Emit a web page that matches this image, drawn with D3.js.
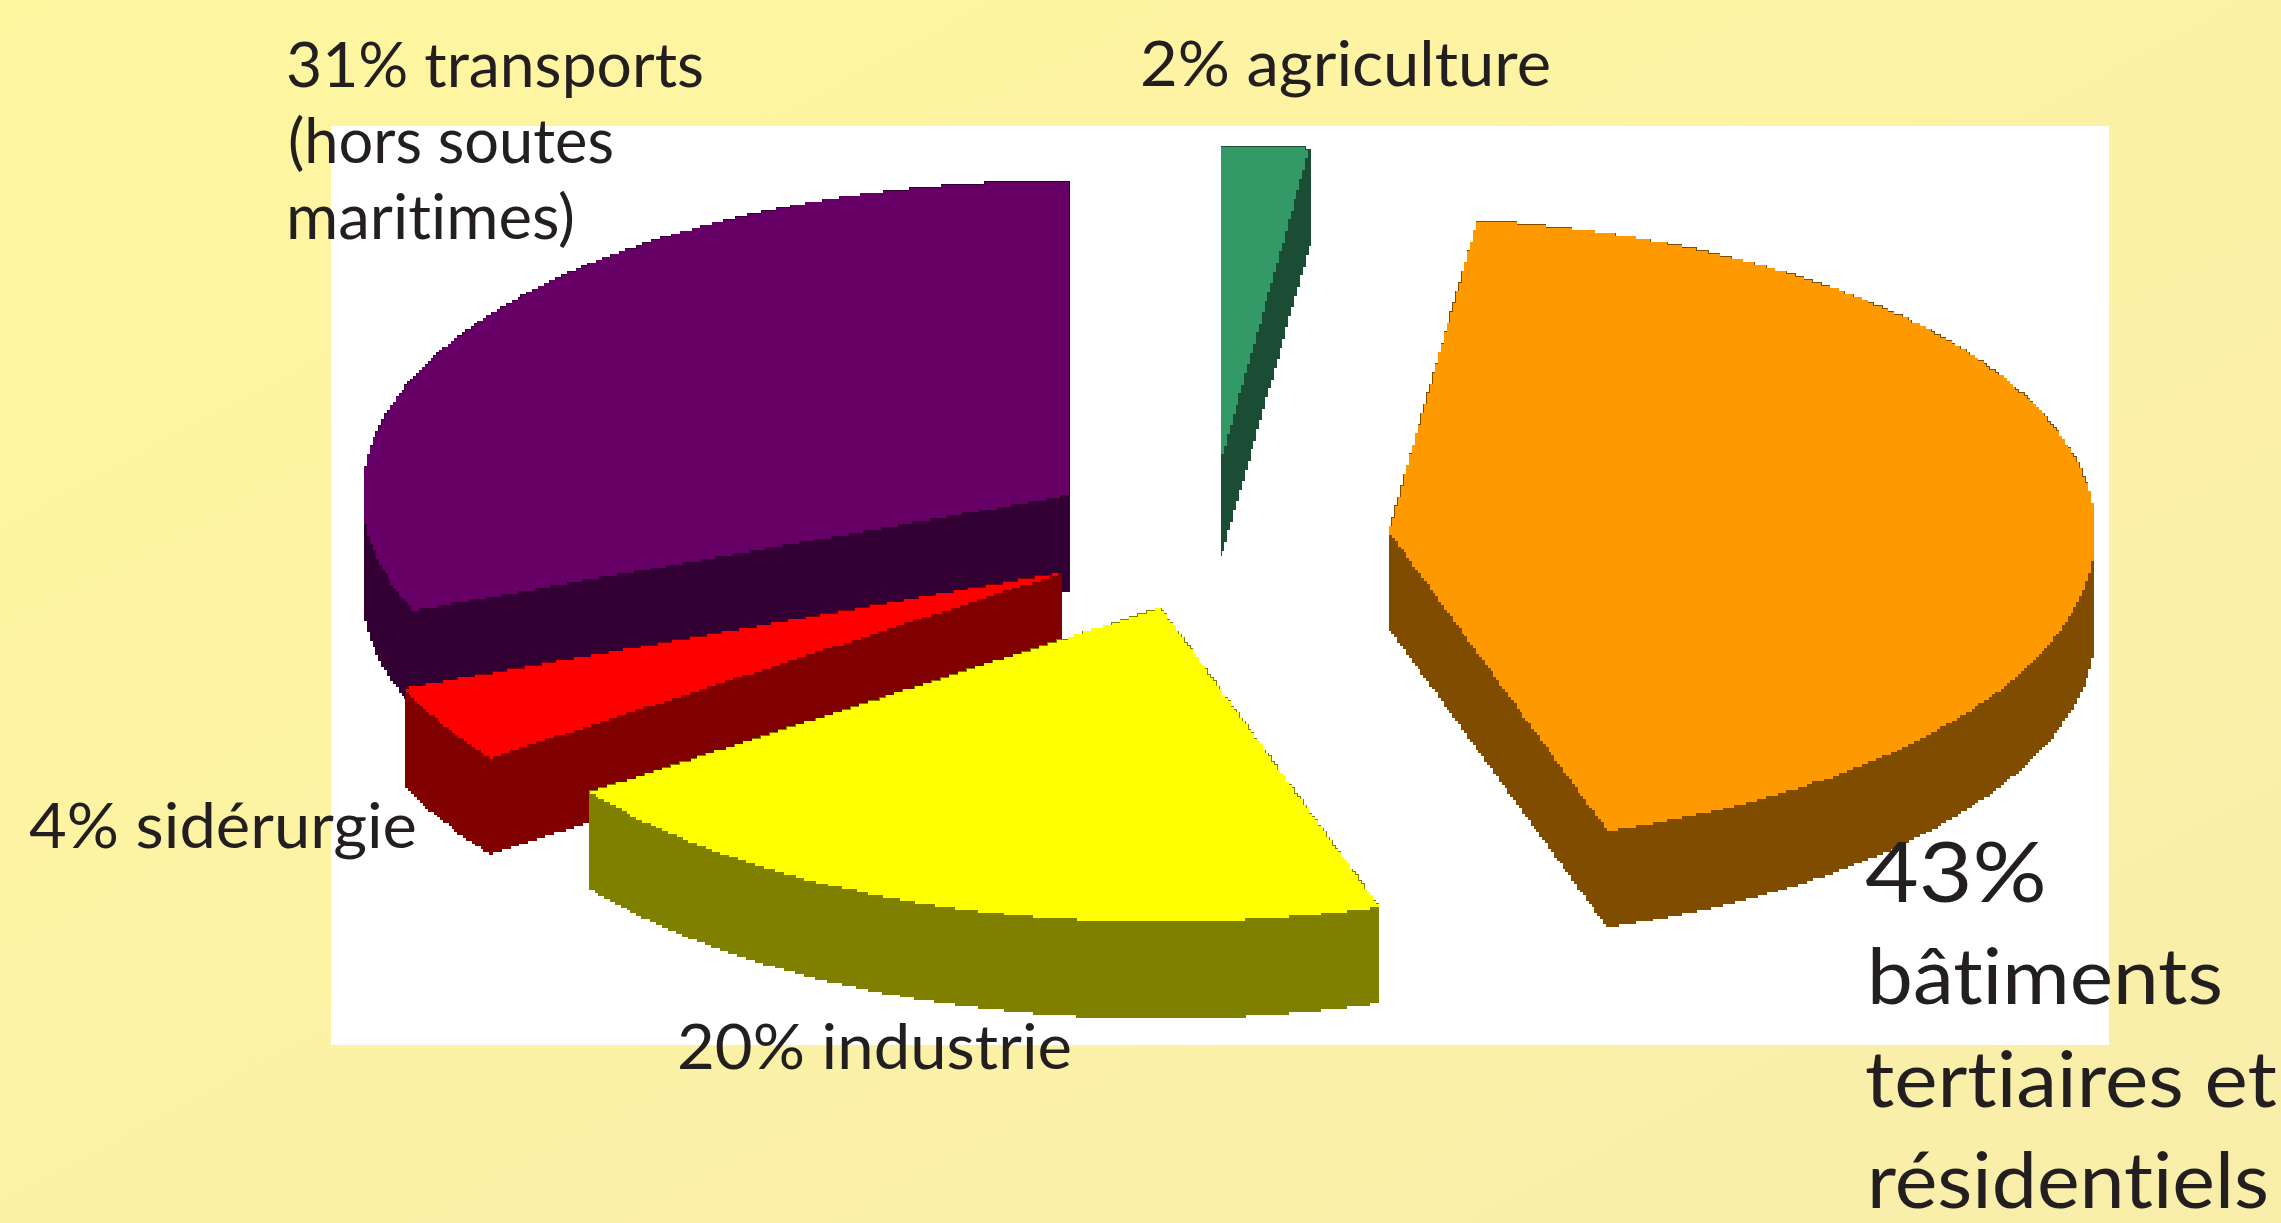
<!DOCTYPE html>
<html>
<head>
<meta charset="utf-8">
<title>Emissions par secteur</title>
<script src="https://cdn.jsdelivr.net/npm/d3@7"></script>
<style>
  html, body { margin: 0; padding: 0; background: #fdf3a5; overflow: hidden; }
  text { font-family: Lato, "Noto Sans", sans-serif; fill: #231f20; font-variant-ligatures: none; }
</style>
</head>
<body>
<div id="chart"></div>
<script>
// values, in drawing order (counter-clockwise from 12 o'clock)
const categories = ["transports", "sidérurgie", "industrie", "bâtiments", "agriculture"];
const shares = [31, 4, 20, 43, 2];
const topColors = ["#660066", "#ff0000", "#ffff00", "#ff9900", "#339966"];
const wallColors = ["#330033", "#800000", "#808000", "#804d00", "#1a4d33"];

// where each exploded slice has its centre
const centersX = [1069, 1061, 1161, 1389, 1221];
const centersY = [495, 573, 608, 532, 460];

const labelLines = ["31% transports", "(hors soutes", "maritimes)", "2% agriculture", "4% sidérurgie",
                    "20% industrie", "43%", "bâtiments", "tertiaires et", "résidentiels"];
const labelX = [286, 288, 286, 1140, 29, 677, 1865, 1867, 1865, 1867];
const labelY = [87, 163, 239, 86, 848, 1069, 902, 1004, 1107, 1208];
const labelW = [418, 326, 289, 411, 388, 395, 182, 356, 412, 402];
const labelSize = [62, 62, 62, 62, 62, 62, 84, 77, 77, 77];

const width = 2281, height = 1223;
const radiusX = 706, radiusY = 314, depth = 96;
const cell = 2.9; // the source picture was a low-res bitmap, edges step by this much

const svg = d3.select("#chart").append("svg")
    .attr("width", width)
    .attr("height", height)
    .style("display", "block");

const defs = svg.append("defs");
const grad = defs.append("linearGradient")
    .attr("id", "bg")
    .attr("x1", 0).attr("y1", 0)
    .attr("x2", 1).attr("y2", 1);
grad.append("stop").attr("offset", "0%").attr("stop-color", "#fff6a0");
grad.append("stop").attr("offset", "100%").attr("stop-color", "#f9eeaa");

svg.append("rect").attr("width", width).attr("height", height).attr("fill", "url(#bg)");

// the white plot area
svg.append("rect")
    .attr("x", 331).attr("y", 126)
    .attr("width", 2109 - 331).attr("height", 1045 - 126)
    .attr("fill", "#fff");

// counter-clockwise pie, squashed through two scales to look tilted
const pie = d3.pie().sort(null).startAngle(0).endAngle(-2 * Math.PI);
const slices = pie(shares);

const x = d3.scaleLinear().domain([-1, 1]).range([-radiusX, radiusX]);
const y = d3.scaleLinear().domain([-1, 1]).range([-radiusY, radiusY]);
const line = d3.line();

// dense outline of one slice: centre -> arc -> centre
function outline(d, i) {
    const cx = centersX[i], cy = centersY[i];
    const arcSteps = Math.ceil(Math.abs(d.endAngle - d.startAngle) * radiusX / 1.5);
    const arcPts = d3.range(arcSteps + 1).map(k => {
        const a = d.startAngle + (d.endAngle - d.startAngle) * k / arcSteps;
        const p = d3.pointRadial(a, 1);
        return [cx + x(p[0]), cy + y(p[1])];
    });
    const spoke = (from, to) => d3.range(1, 400).map(k => [
        from[0] + (to[0] - from[0]) * k / 400,
        from[1] + (to[1] - from[1]) * k / 400
    ]);
    const c = [cx, cy];
    return [c].concat(spoke(c, arcPts[0]), arcPts, spoke(arcPts[arcPts.length - 1], c));
}

// snap to the coarse grid and turn into stairs
function stairs(pts, i) {
    const snap = (v, o) => o + Math.round((v - o) / cell) * cell;
    const out = [];
    pts.forEach(p => {
        const q = [snap(p[0], centersX[i]), snap(p[1], centersY[i])];
        const last = out[out.length - 1];
        if (!last) { out.push(q); return; }
        if (last[0] === q[0] && last[1] === q[1]) return;
        if (last[0] !== q[0] && last[1] !== q[1]) out.push([q[0], last[1]]);
        out.push(q);
    });
    return out;
}

const pieG = svg.append("g").attr("shape-rendering", "crispEdges");

slices.forEach((d, i) => {
    const pts = stairs(outline(d, i), i);
    const g = pieG.append("g").attr("class", "slice-" + i);

    // wall: one quad per outline edge, pushed down by the depth
    d3.pairs(pts.concat([pts[0]])).forEach(([a, b]) => {
        g.append("path")
            .attr("d", line([a, b, [b[0], b[1] + depth], [a[0], a[1] + depth]]) + "Z")
            .attr("fill", wallColors[i])
            .attr("stroke", wallColors[i])
            .attr("stroke-width", 1);
    });

    g.append("path")
        .attr("d", line(pts) + "Z")
        .attr("fill", topColors[i]);
});

svg.append("g").selectAll("text")
    .data(labelLines)
    .enter()
    .append("text")
    .attr("x", (d, i) => labelX[i])
    .attr("y", (d, i) => labelY[i])
    .attr("font-size", (d, i) => labelSize[i])
    .attr("textLength", (d, i) => labelW[i])
    .attr("lengthAdjust", "spacingAndGlyphs")
    .text(d => d);
</script>
</body>
</html>
